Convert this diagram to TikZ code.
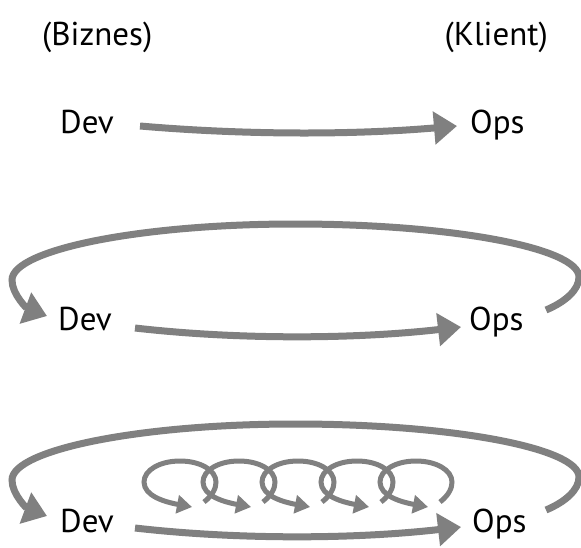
\documentclass[tikz,border=0pt]{standalone}
\usepackage{fontspec}
\setmainfont{PT Sans}
\usetikzlibrary{arrows.meta}
\definecolor{arrowgray}{RGB}{128,128,128}
\tikzset{
  lbl/.style={inner sep=0pt, font=\fontsize{33}{38}\selectfont, text=black},
  bigarrow/.style={draw=arrowgray, line width=7pt, -{Triangle[length=23pt,width=32pt]}},
  bigloop/.style={draw=arrowgray, line width=7pt, -{Triangle[length=23pt,width=32pt]}},
  smallloop/.style={draw=arrowgray, line width=5pt, -{Triangle[length=15pt,width=18pt]}}
}
\begin{document}
\begin{tikzpicture}[x=1pt,y=-1pt]
\useasboundingbox (0,0) rectangle (581,547);
\fill[white] (0,0) rectangle (581,547);

% header labels
\node[lbl, anchor=base west] (biz) at (42,45) {(Biznes)};
\node[lbl, anchor=base east] (kli) at (548,45) {(Klient)};

% row 1
\node[lbl, anchor=base west] (dev1) at (60,133) {Dev};
\node[lbl, anchor=base west] (ops1) at (470,133) {Ops};
\coordinate (a1s) at (140,126);
\coordinate (a1e) at (457,126);
\draw[bigarrow] (a1s) .. controls +(105,9) and +(-105,9) .. (a1e);

% row 2
\node[lbl, anchor=base west] (dev2) at (58,330) {Dev};
\node[lbl, anchor=base west] (ops2) at (469,330) {Ops};
\coordinate (a2s) at (135,328);
\coordinate (a2e) at (461,327);
\draw[bigarrow] (a2s) .. controls +(105,12) and +(-105,12) .. (a2e);
\coordinate (l2s) at (546,310);
\coordinate (l2e) at (47,316);
\draw[bigloop] (l2s) .. controls (565,302) and (579,290) .. (579,277)
  .. controls (579,248) and (452,224) .. (295,224)
  .. controls (139,224) and (12,250) .. (12,280)
  .. controls (12,295) and (28,309) .. (l2e);

% row 3
\node[lbl, anchor=base west] (dev3) at (60,532) {Dev};
\node[lbl, anchor=base west] (ops3) at (472,532) {Ops};
\coordinate (a3s) at (135,528);
\coordinate (a3e) at (461,527);
\draw[bigarrow] (a3s) .. controls +(105,12) and +(-105,12) .. (a3e);
\coordinate (l3s) at (546,510);
\coordinate (l3e) at (47,516);
\draw[bigloop] (l3s) .. controls (565,502) and (579,490) .. (579,477)
  .. controls (579,448) and (452,424) .. (295,424)
  .. controls (139,424) and (12,450) .. (12,480)
  .. controls (12,495) and (28,509) .. (l3e);

% small loops
\foreach \i in {0,...,4}{
  \pgfmathsetmacro{\cx}{180+59*\i}
  \def\cy{482}
  \draw[smallloop] (\cx+24,\cy+20) .. controls (\cx+33,\cy+13) and (\cx+36,\cy+6) .. (\cx+36,\cy)
    .. controls (\cx+36,\cy-12) and (\cx+20,\cy-21) .. (\cx,\cy-21)
    .. controls (\cx-20,\cy-21) and (\cx-36,\cy-12) .. (\cx-36,\cy)
    .. controls (\cx-36,\cy+14) and (\cx-15,\cy+20) .. (\cx+12,\cy+25);
}
\end{tikzpicture}
\end{document}
